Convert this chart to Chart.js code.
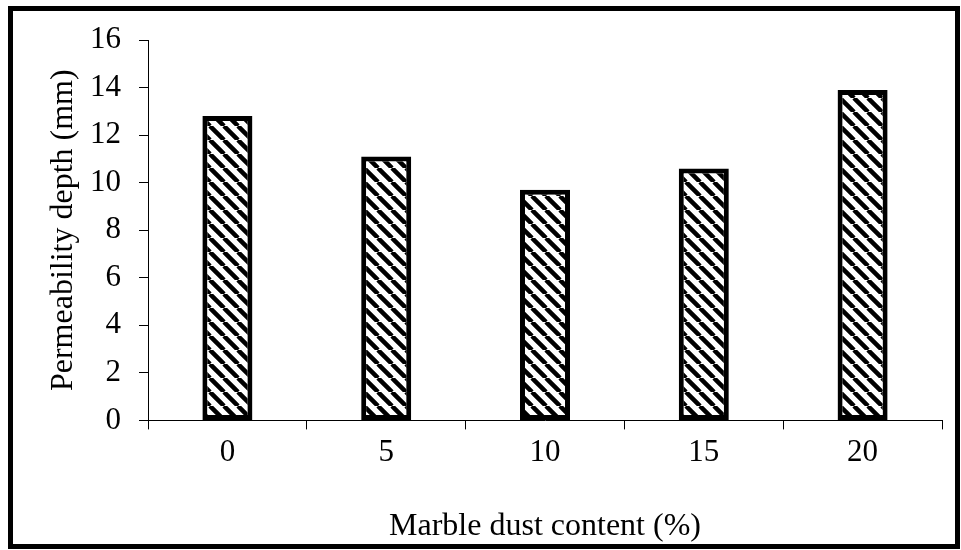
<!DOCTYPE html>
<html>
<head>
<meta charset="utf-8">
<script src="https://cdn.jsdelivr.net/npm/chart.js@4/dist/chart.umd.min.js"></script>
<style>
  html, body { margin: 0; padding: 0; background: #fff; }
  #wrap { width: 961px; height: 550px; }
</style>
</head>
<body>
<div id="wrap"><canvas id="chart" width="961" height="550"></canvas></div>
<script>
const categories = ['0', '5', '10', '15', '20'];
const depthValues = [12.8, 11.1, 9.7, 10.6, 13.9];
const yTicks = [0, 2, 4, 6, 8, 10, 12, 14, 16];

const FONT = '"Liberation Serif", "Times New Roman", serif';

// diagonal hatch like the original (top-left to bottom-right)
function makeHatch() {
    const size = 14;
    const c = document.createElement('canvas');
    c.width = size;
    c.height = size;
    const g = c.getContext('2d');
    g.fillStyle = '#fff';
    g.fillRect(0, 0, size, size);
    g.strokeStyle = '#000';
    g.lineWidth = 4.5;
    g.beginPath();
    for (let k = -1; k <= 1; k++) {
        g.moveTo(k * size, 0);
        g.lineTo(k * size + size, size);
    }
    g.stroke();
    return document.getElementById('chart').getContext('2d').createPattern(c, 'repeat');
}

const frame = {
    id: 'frame',
    afterDraw(chart) {
        const ctx = chart.ctx;
        ctx.save();
        ctx.strokeStyle = '#000';
        ctx.lineWidth = 5;
        ctx.strokeRect(10.5, 8.5, 947, 538);
        ctx.restore();
    }
};

new Chart(document.getElementById('chart'), {
    type: 'bar',
    data: {
        labels: categories,
        datasets: [{
            data: depthValues,
            backgroundColor: makeHatch(),
            borderColor: '#000',
            borderWidth: 5,
            borderSkipped: false,
            categoryPercentage: 1,
            barPercentage: 0.315
        }]
    },
    options: {
        responsive: false,
        animation: false,
        layout: { padding: { top: 40, right: 19, bottom: 4, left: 56 } },
        plugins: {
            legend: { display: false },
            tooltip: { enabled: false }
        },
        scales: {
            x: {
                grid: {
                    display: true,
                    drawOnChartArea: false,
                    drawTicks: true,
                    tickLength: 9,
                    color: '#000',
                    lineWidth: 1
                },
                border: { display: true, color: '#000', width: 1 },
                ticks: {
                    color: '#000',
                    font: { family: FONT, size: 31 },
                    padding: 5
                },
                title: {
                    display: true,
                    text: 'Marble dust content (%)',
                    color: '#000',
                    font: { family: FONT, size: 32 },
                    padding: { top: 31, bottom: 0 }
                }
            },
            y: {
                min: 0,
                max: 16,
                afterBuildTicks(axis) {
                    axis.ticks = yTicks.map(v => ({ value: v }));
                },
                grid: {
                    display: true,
                    drawOnChartArea: false,
                    drawTicks: true,
                    tickLength: 9,
                    color: '#000',
                    lineWidth: 1
                },
                border: { display: true, color: '#000', width: 1 },
                ticks: {
                    color: '#000',
                    font: { family: FONT, size: 31 },
                    padding: 18
                },
                title: {
                    display: true,
                    text: 'Permeability depth (mm)',
                    color: '#000',
                    font: { family: FONT, size: 32, lineHeight: 0.5 },
                    padding: { top: 0, bottom: 0 }
                }
            }
        }
    },
    plugins: [frame]
});
</script>
</body>
</html>
